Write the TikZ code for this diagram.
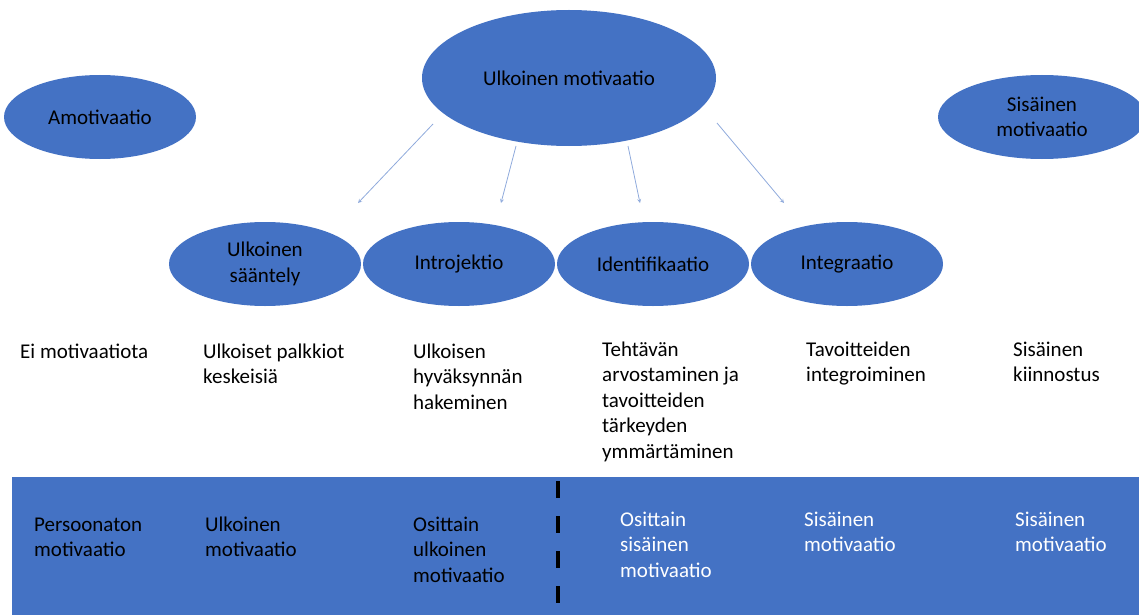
\documentclass[tikz,border=0pt]{standalone}
\usepackage{fontspec}
\setmainfont{Carlito}
\usetikzlibrary{shapes.geometric}
\definecolor{oblue}{RGB}{68,114,196}
\definecolor{arrblue}{RGB}{143,170,220}

\begin{document}
\begin{tikzpicture}[x=1pt, y=-1pt, font=\fontsize{21}{25.6}\selectfont, line join=round, >=stealth,
		oval/.style={ellipse, fill=oblue, inner sep=0pt, align=center, minimum width=192pt, minimum height=84pt},
		txt/.style={anchor=base west, align=left, inner sep=0pt}]
	\useasboundingbox (0,0) rectangle (1139,615);
	% band at the bottom
	\fill[oblue] (12,477) rectangle (1139,615);
	\draw[line width=4pt, dash pattern=on 17pt off 18pt] (558,481) -- (558,608);
	% ellipses
	\node[oval] (amo) at (100,117) {Amotivaatio};
	\node[oval, minimum width=294pt, minimum height=136pt] (ulk) at (569,78) {Ulkoinen motivaatio};
	\node[oval, minimum width=208pt] (sis) at (1042,117) {Sisäinen\\motivaatio};
	\node[oval] (saa) at (265,264) {Ulkoinen\\sääntely};
	\node[oval] (intro) at (459,264) {Introjektio};
	\node[oval] (ident) at (653,264) {Identifikaatio};
	\node[oval] (integ) at (847,264) {Integraatio};
	% arrows
	\coordinate (s1) at (433,124); \coordinate (e1) at (358,203);
	\coordinate (s2) at (516,146); \coordinate (e2) at (501,203);
	\coordinate (s3) at (628,146); \coordinate (e3) at (640,203);
	\coordinate (s4) at (717,123); \coordinate (e4) at (784,203);
	\foreach \i in {1,...,4}\draw[->, arrblue, line width=0.8pt] (s\i) -- (e\i);
	% descriptions (placed at the baseline of the last line)
	\node[txt] (d1) at (20,358) {Ei motivaatiota};
	\node[txt] (d2) at (203,383.6) {Ulkoiset palkkiot\\keskeisiä};
	\node[txt] (d3) at (413,409.2) {Ulkoisen\\hyväksynnän\\hakeminen};
	\node[txt] (d4) at (602,458.4) {Tehtävän\\arvostaminen ja\\tavoitteiden\\tärkeyden\\ymmärtäminen};
	\node[txt] (d5) at (806,381.6) {Tavoitteiden\\integroiminen};
	\node[txt] (d6) at (1013,381.6) {Sisäinen\\kiinnostus};
	% band texts
	\node[txt] (b1) at (34,556.6) {Persoonaton\\motivaatio};
	\node[txt] (b2) at (205,556.6) {Ulkoinen\\motivaatio};
	\node[txt] (b3) at (413,582.2) {Osittain\\ulkoinen\\motivaatio};
	\node[txt, white] (b4) at (620,577.2) {Osittain\\sisäinen\\motivaatio};
	\node[txt, white] (b5) at (804,551.6) {Sisäinen\\motivaatio};
	\node[txt, white] (b6) at (1015,551.6) {Sisäinen\\motivaatio};
\end{tikzpicture}
\end{document}
